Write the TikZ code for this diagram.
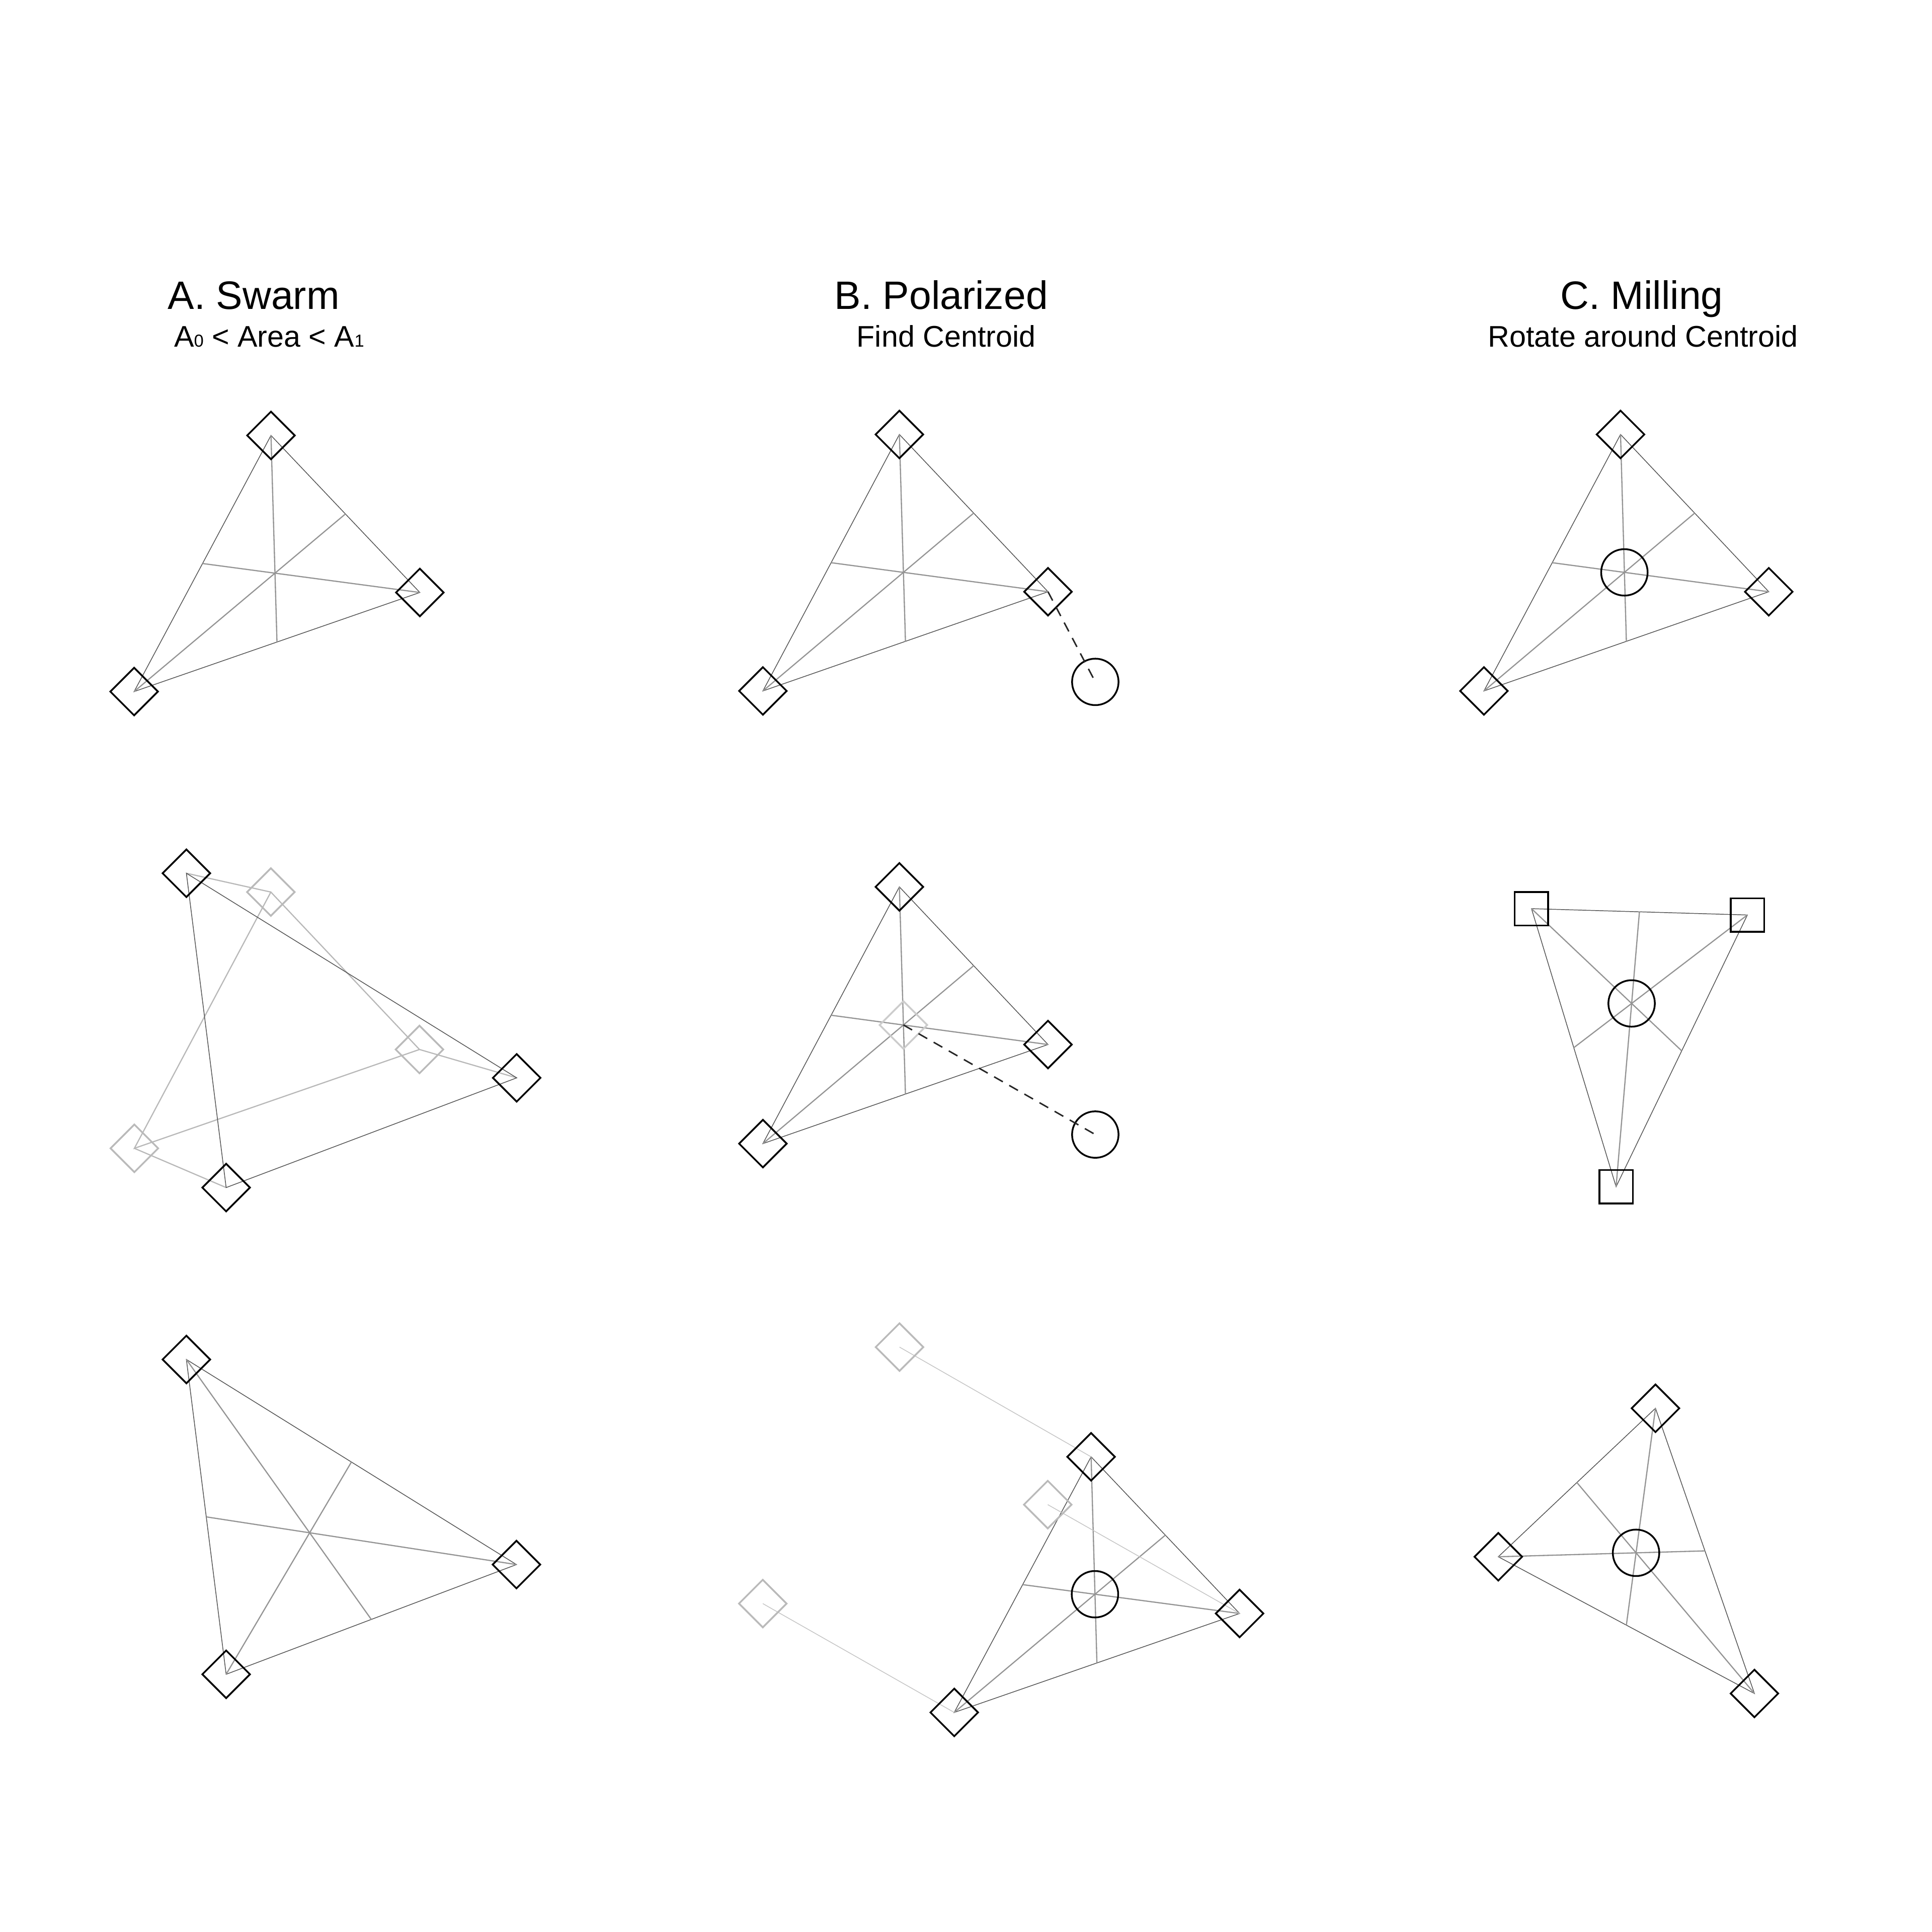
\documentclass[tikz,border=0pt]{standalone}
\usepackage{fontspec}
\setmainfont{Liberation Sans}
\usetikzlibrary{calc}
\usetikzlibrary{shapes.geometric}
\usetikzlibrary{backgrounds}

\begin{document}
\begin{tikzpicture}[x=0.1mm,y=-0.1mm]

\def\lwblk{0.4pt}
\def\lwmed{0.27pt}
\def\lwedg{0.17pt}
\def\sub#1{{\fontsize{4pt}{4pt}\selectfont #1}}

\tikzset{
agent/.style = {draw=black, line width=\lwblk, shape=diamond, minimum width=3.9mm, minimum height=3.9mm, inner sep=0pt},
ghost/.style = {agent, draw=black!27},
agentsq/.style = {draw=black, line width=\lwblk, shape=rectangle, minimum size=2.7mm, inner sep=0pt},
centroid/.style = {draw=black, line width=\lwblk, shape=circle, minimum size=3.75mm, inner sep=0pt},
edge/.style = {color=black!68, line width=\lwedg},
median/.style = {color=black!42, line width=\lwmed},
trail/.style = {color=black!28, line width=\lwmed},
trailthin/.style = {color=black!23, line width=\lwedg},
goal/.style = {color=black!85, line width=0.34pt, dash pattern=on 2.3pt off 1.7pt},
title/.style = {anchor=base, font=\fontsize{9.1pt}{11pt}\selectfont, inner sep=0pt},
subtitle/.style = {anchor=base, font=\fontsize{6.85pt}{8pt}\selectfont, inner sep=0pt}
}

% edges and medians of one triangle
\def\meds#1#2#3{
\draw[edge] (#1.center) -- (#2.center) -- (#3.center) -- cycle;
\draw[median] (#1.center) -- ($(#2.center)!0.5!(#3.center)$);
\draw[median] (#2.center) -- ($(#1.center)!0.5!(#3.center)$);
\draw[median] (#3.center) -- ($(#1.center)!0.5!(#2.center)$);
}

\useasboundingbox (0,0) rectangle (1560,1560);

\node[title] (ta) at (204.8,249.8) {A. Swarm};
\node[subtitle] (sa) at (217.3,280) {A\sub{0} < Area < A\sub{1}};
\node[title] (tb) at (760,249.8) {B. Polarized};
\node[subtitle] (sb) at (764,280) {Find Centroid};
\node[title] (tc) at (1325.6,249.8) {C. Milling};
\node[subtitle] (sc) at (1326.6,280) {Rotate around Centroid};

%% row 1
\node[agent] (a1t) at (218.8,351.6) {};
\node[agent] (a1r) at (339.0,478.4) {};
\node[agent] (a1l) at (108.3,558.4) {};

\node[agent] (b1t) at (726.2,350.8) {};
\node[agent] (b1r) at (846.2,477.8) {};
\node[agent] (b1l) at (616.0,557.9) {};
\node[centroid] (b1g) at (884.4,550.6) {};

\node[agent] (c1t) at (1308.5,350.8) {};
\node[agent] (c1r) at (1428.2,477.8) {};
\node[agent] (c1l) at (1198.2,557.9) {};
\node[centroid] (c1c) at (barycentric cs:c1t=1,c1r=1,c1l=1) {};

%% row 2
\node[ghost] (a2u) at (218.7,720.3) {};
\node[ghost] (a2v) at (338.7,847.4) {};
\node[ghost] (a2w) at (108.5,927.2) {};
\node[agent] (a2t) at (150.5,705.1) {};
\node[agent] (a2r) at (417.2,870.3) {};
\node[agent] (a2b) at (182.6,958.9) {};

\node[agent] (b2t) at (726.2,716.1) {};
\node[agent] (b2r) at (846.2,843.4) {};
\node[agent] (b2l) at (616.0,923.4) {};
\node[ghost,draw=black!20] (b2c) at (barycentric cs:b2t=1,b2r=1,b2l=1) {};
\node[centroid] (b2g) at (884.4,916.1) {};

\node[agentsq] (c2l) at (1236.6,733.7) {};
\node[agentsq] (c2r) at (1410.9,738.8) {};
\node[agentsq] (c2b) at (1304.9,958.2) {};
\node[centroid] (c2c) at (barycentric cs:c2l=1,c2r=1,c2b=1) {};

%% row 3
\node[agent] (a3t) at (150.5,1097.7) {};
\node[agent] (a3r) at (417.0,1263.3) {};
\node[agent] (a3b) at (182.6,1351.9) {};

\node[ghost] (b3u) at (726.3,1087.7) {};
\node[ghost] (b3v) at (846.0,1214.9) {};
\node[ghost] (b3w) at (615.9,1294.8) {};
\node[agent] (b3t) at (881.0,1176.3) {};
\node[agent] (b3r) at (1000.9,1302.8) {};
\node[agent] (b3l) at (770.5,1382.7) {};
\node[centroid] (b3c) at (barycentric cs:b3t=1,b3r=1,b3l=1) {};

\node[agent] (c3t) at (1336.7,1137.1) {};
\node[agent] (c3l) at (1209.8,1257.0) {};
\node[agent] (c3r) at (1416.6,1367.4) {};
\node[centroid] (c3c) at (barycentric cs:c3t=1,c3l=1,c3r=1) {};

\begin{scope}[on background layer]
\meds{a1t}{a1r}{a1l}
\meds{b1t}{b1r}{b1l}
\meds{c1t}{c1r}{c1l}
\meds{b2t}{b2r}{b2l}
\meds{c2l}{c2r}{c2b}
\meds{a3t}{a3r}{a3b}
\meds{b3t}{b3r}{b3l}
\meds{c3t}{c3l}{c3r}

\draw[trail] (a2u.center) -- (a2v.center) -- (a2w.center) -- cycle;
\draw[trail] (a2t.center) -- (a2u.center);
\draw[trail] (a2r.center) -- (a2v.center);
\draw[trail] (a2b.center) -- (a2w.center);
\draw[edge] (a2t.center) -- (a2r.center) -- (a2b.center) -- cycle;

\draw[trailthin] (b3u.center) -- (b3t.center);
\draw[trailthin] (b3v.center) -- (b3r.center);
\draw[trailthin] (b3w.center) -- (b3l.center);
\end{scope}

\draw[goal] (b1r.center) -- (b1g.center);
\draw[goal] (b2c.center) -- (b2g.center);

\end{tikzpicture}
\end{document}
